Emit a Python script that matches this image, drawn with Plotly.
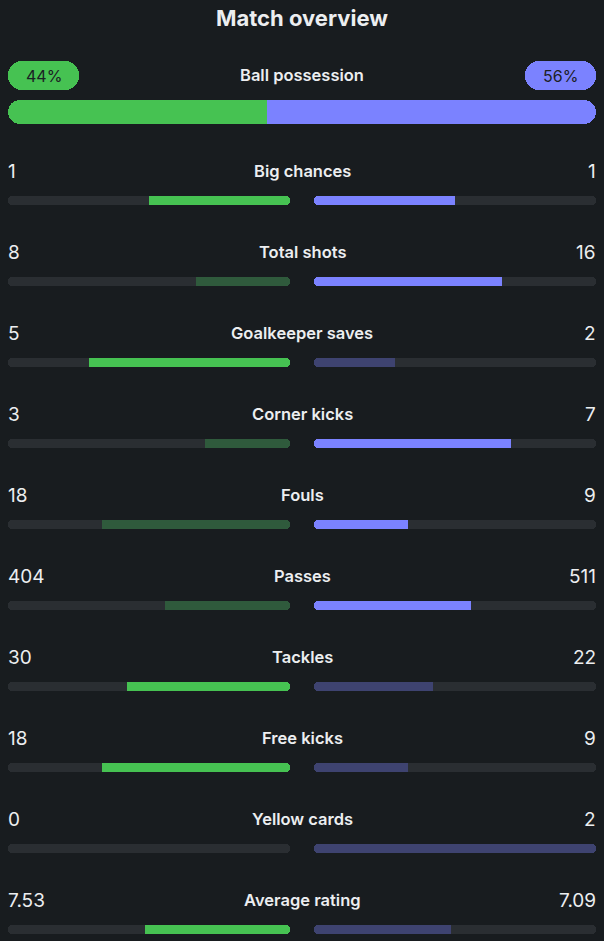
import plotly.graph_objects as go

# ---------------- data ----------------
title = "Match overview"
possession_label = "Ball possession"
possession_home = 44
possession_away = 56

stat_names = ["Big chances", "Total shots", "Goalkeeper saves", "Corner kicks", "Fouls",
              "Passes", "Tackles", "Free kicks", "Yellow cards", "Average rating"]
home_values = [1, 8, 5, 3, 18, 404, 30, 18, 0, 7.53]
away_values = [1, 16, 2, 7, 9, 511, 22, 9, 2, 7.09]
home_text = ["1", "8", "5", "3", "18", "404", "30", "18", "0", "7.53"]
away_text = ["1", "16", "2", "7", "9", "511", "22", "9", "2", "7.09"]
lower_is_better = [False, False, False, False, True, False, False, False, True, False]

# ---------------- style ----------------
W, H = 604, 941
BG = "#181c1f"
TRACK = "#2a2e32"
GREEN = "#46c252"
GREEN_DIM = "#2f5a3c"
BLUE = "#7b82ff"
BLUE_DIM = "#3e4370"
TEXT = "#eceef0"
FONT = "Inter"

LEFT, RIGHT, GAP = 8, 596, 24
MID = W / 2
ROW0_LABEL = 171
ROW_STEP = 81
BAR_OFFSET = 29.5
BAR_H = 9
HALF_W = (MID - GAP / 2) - LEFT          # pixel width of each half track
PATCH = 8 / HALF_W                       # square patch length (axis units)

label_y = [ROW0_LABEL + ROW_STEP * i for i in range(len(stat_names))]
bar_y = [y + BAR_OFFSET for y in label_y]

home_frac, away_frac, home_col, away_col = [], [], [], []
for h, a, low in zip(home_values, away_values, lower_is_better):
    tot = h + a
    home_frac.append(h / tot if tot else 0)
    away_frac.append(a / tot if tot else 0)
    if h == a:
        hb, ab = True, True
    else:
        home_wins = (h < a) if low else (h > a)
        hb, ab = home_wins, not home_wins
    home_col.append(GREEN if hb else GREEN_DIM)
    away_col.append(BLUE if ab else BLUE_DIM)

fig = go.Figure()
n = len(stat_names)


def hbar(y, x, base, width, color, axis, rounded=True):
    m = dict(color=color, line_width=0)
    if rounded:
        m["cornerradius"] = "50%"
    fig.add_trace(go.Bar(orientation="h", y=y, x=x, base=base, width=width, marker=m,
                         xaxis=axis, yaxis="y", hoverinfo="skip", showlegend=False))


def patch_len(f):
    # square far end unless the fill covers the whole track
    return 0 if f >= 0.999 else min(PATCH, f)


# tracks (explicit base -> both ends rounded)
for xa in ["x", "x2"]:
    hbar(bar_y, [1] * n, [0] * n, BAR_H, TRACK, xa)

# fills: rounded at centre end, square at far end
for frac, cols, xa in [(home_frac, home_col, "x"), (away_frac, away_col, "x2")]:
    hbar(bar_y, frac, [0] * n, BAR_H, cols, xa)
    hbar(bar_y, [patch_len(f) for f in frac], [f - patch_len(f) for f in frac],
         BAR_H, cols, xa, rounded=False)

# possession bar
POS_Y, POS_H = 112, 24
total_pos = possession_home + possession_away
hbar([POS_Y], [total_pos], [0], POS_H, BLUE, "x3")
hbar([POS_Y], [possession_home], [0], POS_H, GREEN, "x3")
hbar([POS_Y], [3], [possession_home - 3], POS_H, GREEN, "x3", rounded=False)

# pills
PILL_Y, PILL_H = 75.5, 29
pill_w = 71 / (RIGHT - LEFT) * total_pos
pill_base = [0, total_pos - pill_w]
pill_cols = [GREEN, BLUE]
pill_text = [f"{possession_home}%", f"{possession_away}%"]
for b, col in zip(pill_base, pill_cols):
    hbar([PILL_Y], [pill_w], [b], PILL_H, col, "x3")

ann = []
ann.append(dict(text=title, x=0.5, xref="paper", y=17.5, yref="y", showarrow=False,
                font=dict(family=FONT, size=22, color=TEXT, weight="bold"),
                xanchor="center", yanchor="middle"))
ann.append(dict(text=possession_label, x=0.5, xref="paper", y=PILL_Y - 0.5, yref="y", showarrow=False,
                font=dict(family=FONT, size=16.5, color=TEXT, weight=600),
                xanchor="center", yanchor="middle"))
for b, t in zip(pill_base, pill_text):
    ann.append(dict(text=t, x=b + pill_w / 2, xref="x3", y=PILL_Y, yref="y", showarrow=False,
                    font=dict(family=FONT, size=16, color="#1b2024"),
                    xanchor="center", yanchor="middle"))
for i in range(n):
    ann.append(dict(text=stat_names[i], x=0.5, xref="paper", y=label_y[i], yref="y",
                    showarrow=False, font=dict(family=FONT, size=16.5, color=TEXT, weight=600),
                    xanchor="center", yanchor="middle"))
    ann.append(dict(text=home_text[i], x=LEFT / W, xref="paper", y=label_y[i], yref="y",
                    showarrow=False, font=dict(family=FONT, size=19, color=TEXT),
                    xanchor="left", yanchor="middle", xshift=-2))
    ann.append(dict(text=away_text[i], x=RIGHT / W, xref="paper", y=label_y[i], yref="y",
                    showarrow=False, font=dict(family=FONT, size=19, color=TEXT),
                    xanchor="right", yanchor="middle", xshift=2))

ax_common = dict(visible=False, showgrid=False, zeroline=False, fixedrange=True)
fig.update_layout(
    width=W, height=H, paper_bgcolor=BG, plot_bgcolor="rgba(0,0,0,0)",
    margin=dict(l=0, r=0, t=0, b=0), barmode="overlay", bargap=0,
    xaxis=dict(domain=[LEFT / W, (MID - GAP / 2) / W], range=[1, 0], **ax_common),
    xaxis2=dict(domain=[(MID + GAP / 2) / W, RIGHT / W], range=[0, 1], **ax_common),
    xaxis3=dict(domain=[LEFT / W, RIGHT / W], range=[0, total_pos], **ax_common),
    yaxis=dict(domain=[0, 1], range=[H, 0], **ax_common),
    annotations=ann,
)
fig.write_html("out.html", config=dict(displayModeBar=False),
               post_script="document.body.style.margin='0';document.body.style.background='%s';" % BG)
